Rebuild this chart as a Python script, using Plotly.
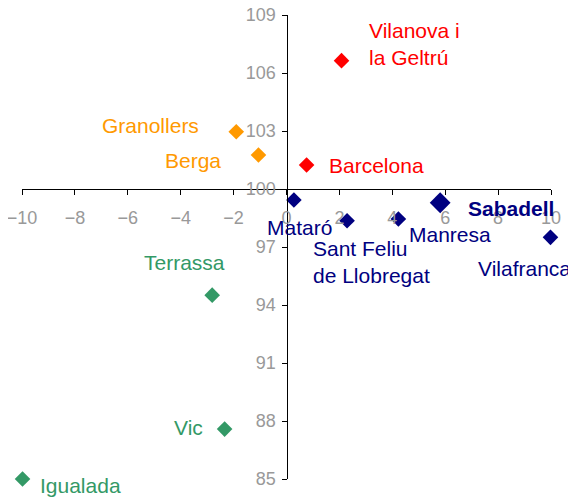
import plotly.graph_objects as go

# ---- data ----
cities = ["Vilanova i<br>la Geltrú", "Barcelona", "Granollers", "Berga",
          "Mataró", "Sant Feliu<br>de Llobregat", "Manresa", "Sabadell", "Vilafranca",
          "Terrassa", "Vic", "Igualada"]
x_vals = [2.08, 0.76, -1.90, -1.06, 0.28, 2.29, 4.23, 5.81, 9.98, -2.81, -2.34, -9.98]
y_vals = [106.64, 101.24, 102.96, 101.76, 99.43, 98.36, 98.45, 99.29, 97.50, 94.51, 87.58, 85.0]
groups = ["red", "red", "orange", "orange", "navy", "navy", "navy", "navy", "navy",
          "green", "green", "green"]

x_ticks = [-10, -8, -6, -4, -2, 0, 2, 4, 6, 8, 10]
y_ticks = [85, 88, 91, 94, 97, 100, 103, 106, 109]

# ---- styles ----
colors = {"red": "#FF0000", "orange": "#FF9900", "navy": "#000080", "green": "#339966"}
# label placement: (xanchor, xshift, yshift)
label_pos = {
    "Vilanova i<br>la Geltrú": ("left", 25, 17),
    "Barcelona": ("left", 20, 0),
    "Granollers": ("right", -35, 6),
    "Berga": ("right", -35, -6),
    "Mataró": ("center", 6, -27),
    "Sant Feliu<br>de Llobregat": ("left", -36, -41),
    "Manresa": ("left", 9, -16),
    "Sabadell": ("left", 26, -6),
    "Vilafranca": ("right", 23, -31),
    "Terrassa": ("right", 15, 33),
    "Vic": ("right", -20, 2),
    "Igualada": ("left", 15, -6),
}

fig = go.Figure()
for c, x, y, g in zip(cities, x_vals, y_vals, groups):
    big = c == "Sabadell"
    fig.add_trace(go.Scatter(
        x=[x], y=[y], mode="markers",
        marker=dict(symbol="diamond", size=16 if big else 12, color=colors[g],
                    line=dict(width=0)),
        showlegend=False, hoverinfo="skip", cliponaxis=False))
    xa, xs, ys = label_pos[c]
    fig.add_annotation(
        x=x, y=y, text=("<b>%s</b>" % c) if big else c, showarrow=False,
        xanchor=xa, yanchor="middle", xshift=xs, yshift=ys, align="left",
        font=dict(family="Liberation Sans, Arial, sans-serif", size=21, color=colors[g]))

axis_common = dict(
    showgrid=False, zeroline=False, showline=True, linecolor="#000000", linewidth=1,
    ticks="outside", ticklen=5, tickcolor="#000000", tickwidth=1,
    tickfont=dict(family="Liberation Sans, Arial, sans-serif", size=18, color="#999999"),
    automargin=False, ticklabeloverflow="allow",
)
fig.update_layout(
    width=568, height=489,
    margin=dict(l=14, r=25, t=7, b=18),
    paper_bgcolor="white", plot_bgcolor="white",
    xaxis=dict(range=[-10, 10], tickvals=x_ticks, anchor="free",
               position=(100 - 85) / (109 - 85), ticklabelstandoff=7, **axis_common),
    yaxis=dict(range=[85, 109], tickvals=y_ticks, anchor="free",
               position=0.5, ticklabelstandoff=2, **axis_common),
)
fig.write_html("out.html")
